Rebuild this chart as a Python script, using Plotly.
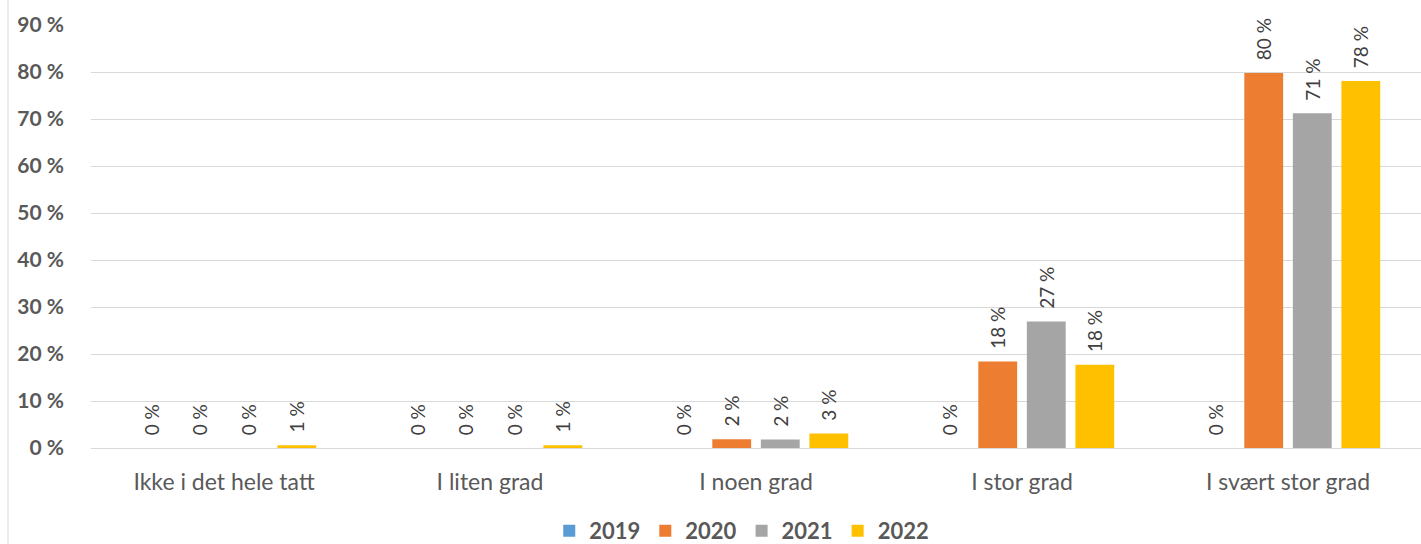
import plotly.graph_objects as go

categories = ["Ikke i det hele tatt", "I liten grad", "I noen grad", "I stor grad", "I svært stor grad"]
years = ["2019", "2020", "2021", "2022"]
values_2019 = [0.0, 0.0, 0.0, 0.0, 0.0]
values_2020 = [0.0, 0.0, 1.85, 18.4, 79.8]
values_2021 = [0.0, 0.0, 1.8, 26.9, 71.2]
values_2022 = [0.6, 0.6, 3.1, 17.7, 78.1]
colors = ["#5B9BD5", "#ED7D31", "#A5A5A5", "#FFC000"]
y_ticks = list(range(0, 91, 10))

FONT = "Lato"
series = [values_2019, values_2020, values_2021, values_2022]

fig = go.Figure()
for name, vals, col in zip(years, series, colors):
    fig.add_trace(go.Bar(
        x=categories, y=vals, name=name,
        marker=dict(color=col, line=dict(width=0)),
        texttemplate="\u00a0\u00a0%{y:.0f} %", textposition="outside",
        textangle=-90, cliponaxis=False, constraintext="none",
        textfont=dict(family=FONT, size=19, color="#404040"),
    ))

fig.update_layout(
    width=1421, height=544,
    margin=dict(l=91, r=0, t=25, b=96),
    paper_bgcolor="white", plot_bgcolor="white",
    barmode="group", bargap=0.27, bargroupgap=0.2,
    uniformtext=dict(mode=False),
    font=dict(family=FONT, color="#595959"),
    showlegend=True,
    legend=dict(
        orientation="h", xref="container", yref="container",
        x=0.522, xanchor="center", y=0.024, yanchor="middle",
        font=dict(family=FONT, size=22, color="#595959", weight="bold"),
        itemwidth=30, tracegroupgap=0,
    ),
    shapes=[dict(type="line", xref="paper", yref="paper",
                 x0=-0.0624, x1=-0.0624, y0=-0.3, y1=1.1,
                 line=dict(color="#d9d9d9", width=1))],
)
fig.update_xaxes(
    showline=False, showgrid=False, ticks="",
    tickfont=dict(family=FONT, size=23, color="#595959"),
    ticklabelstandoff=18,
)
fig.update_yaxes(
    range=[0, 90], tickvals=y_ticks, ticktext=[f"{v} %" for v in y_ticks],
    showgrid=True, gridcolor="#d9d9d9", gridwidth=1,
    zeroline=True, zerolinecolor="#d9d9d9", zerolinewidth=1,
    showline=False, ticks="",
    tickfont=dict(family=FONT, size=21, color="#595959", weight="bold"),
    ticklabelstandoff=26,
)

fig.write_html("out.html")
